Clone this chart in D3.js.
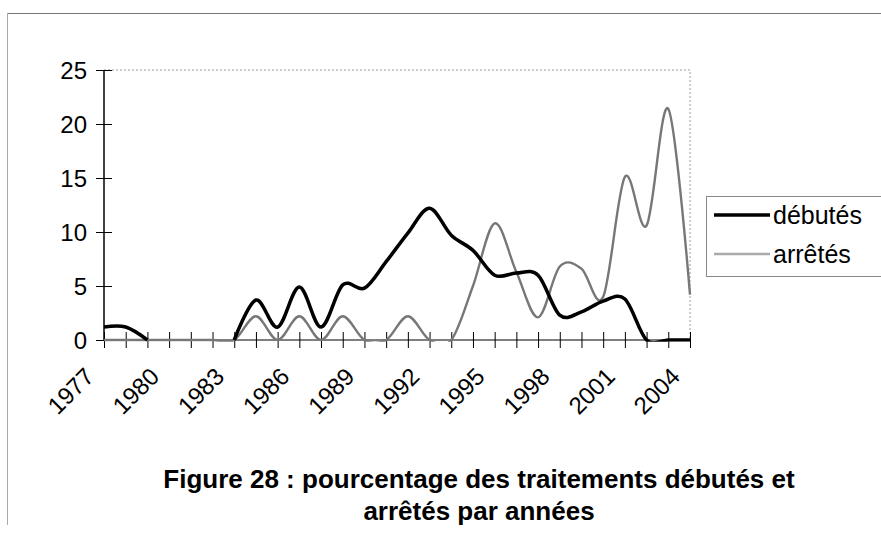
<html><head>
<script src="https://d3js.org/d3.v7.min.js"></script>
<style>
  body { margin: 0; background: #fff; }
  text { font-family: 'Liberation Sans', Arial, sans-serif; fill: #000; }
  .axis path { display: none; }
  .axis line { stroke: #000; }
</style>
</head>
<body>
<svg id="chart" width="881" height="556"></svg>
<script>
// data (pourcentage par année)
const years = [1977, 1978, 1979, 1980, 1981, 1982, 1983, 1984, 1985, 1986, 1987, 1988, 1989, 1990,
               1991, 1992, 1993, 1994, 1995, 1996, 1997, 1998, 1999, 2000, 2001, 2002, 2003, 2004];
const yearLabels = [1977, 1980, 1983, 1986, 1989, 1992, 1995, 1998, 2001, 2004];
const debutes = [1.2, 1.2, 0, null, null, null, 0, 3.7, 1.2, 4.9, 1.2, 5.1, 4.8, 7.25,
                 9.9, 12.2, 9.7, 8.3, 6.0, 6.2, 6.0, 2.3, 2.6, 3.6, 3.8, 0, 0, 0];
const arretes = [0, 0, 0, 0, 0, 0, 0, 2.2, 0, 2.2, 0, 2.2, 0, 0,
                 2.2, 0, 0, 5.0, 10.8, 6.3, 2.1, 6.8, 6.6, 4.0, 15.1, 10.6, 21.4, 4.2];
const yTicks = [0, 5, 10, 15, 20, 25];
const seriesNames = ["débutés", "arrêtés"];

const svg = d3.select("#chart");
const plot = {left: 104, right: 690, top: 70, bottom: 340};

const x = d3.scalePoint().domain(years).range([plot.left, plot.right]);
const y = d3.scaleLinear().domain([0, 25]).range([plot.bottom, plot.top]);

// keep the smoothed curves from dipping under the axis
svg.append("clipPath").attr("id", "plotclip")
   .append("rect").attr("x", 0).attr("y", 0).attr("width", 881).attr("height", plot.bottom + 1.8);

// outer frame (scanned page border)
svg.append("line").attr("x1", 7).attr("x2", 881).attr("y1", 13.5).attr("y2", 13.5)
   .attr("stroke", "#777").attr("stroke-width", 1.2);
svg.append("line").attr("x1", 7.5).attr("x2", 7.5).attr("y1", 13).attr("y2", 525)
   .attr("stroke", "#aaa").attr("stroke-width", 1);

// plot area top/right border, dotted grey
svg.append("path")
   .attr("d", `M${plot.left},${plot.top}H${plot.right}V${plot.bottom}`)
   .attr("fill", "none").attr("stroke", "#999").attr("stroke-width", 1)
   .attr("stroke-dasharray", "2,2");

// y axis
const yAxis = svg.append("g").attr("class", "axis")
   .attr("transform", `translate(${plot.left},0)`)
   .call(d3.axisLeft(y).tickValues(yTicks).tickSize(8).tickPadding(9));
yAxis.selectAll(".tick line").attr("x1", 8).attr("x2", -8);
yAxis.selectAll(".tick text").style("font-size", "24px").attr("dy", "0.36em");
yAxis.append("line").attr("x1", 0).attr("x2", 0).attr("y1", plot.top).attr("y2", plot.bottom)
   .attr("stroke", "#000").attr("stroke-width", 1.5);

// x axis
const xAxis = svg.append("g").attr("class", "axis")
   .attr("transform", `translate(0,${plot.bottom})`)
   .call(d3.axisBottom(x).tickSize(8).tickFormat(d => yearLabels.includes(d) ? d : ""));
xAxis.selectAll(".tick line").attr("y1", -8).attr("y2", 8);
xAxis.selectAll(".tick text")
   .style("font-size", "24px")
   .attr("text-anchor", "end")
   .attr("y", 0).attr("dy", 0)
   .attr("transform", "translate(-9,38) rotate(-45)");
xAxis.append("line").attr("x1", plot.left).attr("x2", plot.right).attr("y1", 0).attr("y2", 0)
   .attr("stroke", "#555").attr("stroke-width", 1.2);

// lines
const line = d3.line()
   .defined(d => d[1] !== null)
   .x(d => x(d[0]))
   .y(d => y(d[1]))
   .curve(d3.curveCardinal.tension(0));

const lines = svg.append("g").attr("clip-path", "url(#plotclip)");
lines.append("path")
   .datum(years.map((yr, i) => [yr, arretes[i]]))
   .attr("d", line)
   .attr("fill", "none").attr("stroke", "#777").attr("stroke-width", 2.4);

lines.append("path")
   .datum(years.map((yr, i) => [yr, debutes[i]]))
   .attr("d", line)
   .attr("fill", "none").attr("stroke", "#000").attr("stroke-width", 3.5);

// legend
const legend = svg.append("g");
legend.append("rect").attr("x", 706.5).attr("y", 196.5).attr("width", 200).attr("height", 80)
   .attr("fill", "#fff").attr("stroke", "#888").attr("stroke-width", 1);
const legStyles = [{stroke: "#000", width: 3.5}, {stroke: "#aaa", width: 2.4}];
seriesNames.forEach((name, i) => {
  const ly = 215 + i * 39;
  legend.append("line").attr("x1", 714).attr("x2", 770).attr("y1", ly).attr("y2", ly)
     .attr("stroke", legStyles[i].stroke).attr("stroke-width", legStyles[i].width);
  legend.append("text").attr("x", 773).attr("y", ly + 8.5)
     .style("font-size", "25px").text(name);
});

// caption
const caption = svg.append("g").attr("text-anchor", "middle")
   .style("font-weight", "bold").style("font-size", "26px");
caption.append("text").attr("x", 479).attr("y", 488)
   .text("Figure 28 : pourcentage des traitements débutés et");
caption.append("text").attr("x", 479).attr("y", 520)
   .text("arrêtés par années");
</script>
</body>
</html>
